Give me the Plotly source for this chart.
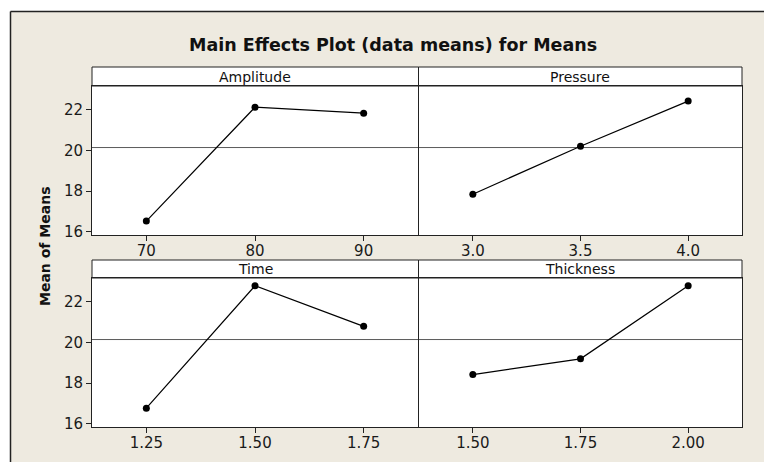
import plotly.graph_objects as go

# ---- data ----
factors = ["Amplitude", "Pressure", "Time", "Thickness"]
amplitude_levels = [70, 80, 90]
amplitude_means = [16.53, 22.11, 21.82]
pressure_levels = [3.0, 3.5, 4.0]
pressure_means = [17.85, 20.20, 22.41]
time_levels = [1.25, 1.50, 1.75]
time_means = [16.77, 22.77, 20.78]
thickness_levels = [1.50, 1.75, 2.00]
thickness_means = [18.42, 19.19, 22.77]

amplitude_ticks = ["70", "80", "90"]
pressure_ticks = ["3.0", "3.5", "4.0"]
time_ticks = ["1.25", "1.50", "1.75"]
thickness_ticks = ["1.50", "1.75", "2.00"]
y_ticks = [16, 18, 20, 22]

levels = [amplitude_levels, pressure_levels, time_levels, thickness_levels]
means = [amplitude_means, pressure_means, time_means, thickness_means]
ticks = [amplitude_ticks, pressure_ticks, time_ticks, thickness_ticks]

all_means = amplitude_means + pressure_means + time_means + thickness_means
grand_mean = sum(all_means) / len(all_means)

W, H = 764, 462
BEIGE = "#EEEAE0"
DARK = "#222222"
FONT = "DejaVu Sans, Verdana, sans-serif"


def px(x):
    return x / W


def py(y):
    return 1 - y / H


x_domains = [[px(92), px(418)], [px(419), px(742)]]
strip_x = [[px(92), px(418.5)], [px(418.5), px(742)]]
y_domains = [[py(235), py(86)], [py(427), py(278)]]
strip_px = [(67, 86), (260, 278)]

fig = go.Figure()
shapes = []
annotations = []

for i in range(4):
    row, col = divmod(i, 2)
    n = i + 1
    xa = "x" if n == 1 else f"x{n}"
    ya = "y" if n == 1 else f"y{n}"
    fig.add_trace(go.Scatter(
        x=levels[i], y=means[i], mode="lines+markers",
        line=dict(color="black", width=1.2),
        marker=dict(color="black", size=7),
        xaxis=xa, yaxis=ya, showlegend=False, hoverinfo="x+y",
    ))
    lv = levels[i]
    step = lv[1] - lv[0]
    xkey = "xaxis" if n == 1 else f"xaxis{n}"
    ykey = "yaxis" if n == 1 else f"yaxis{n}"
    fig.layout[xkey] = dict(
        domain=x_domains[col], anchor=ya, automargin=False,
        range=[lv[0] - step / 2, lv[-1] + step / 2],
        tickmode="array", tickvals=lv, ticktext=ticks[i],
        ticks="outside", ticklen=5, tickcolor=DARK, tickwidth=1,
        ticklabelstandoff=-3,
        showline=True, linecolor=DARK, linewidth=1, mirror=True,
        showgrid=False, zeroline=False,
        tickfont=dict(family=FONT, size=15, color="#1a1a1a"),
        fixedrange=True,
    )
    fig.layout[ykey] = dict(
        domain=y_domains[row], anchor=xa, automargin=False,
        range=[15.85, 23.15],
        tickmode="array", tickvals=y_ticks,
        ticks="outside" if col == 0 else "", ticklen=5, tickcolor=DARK,
        showticklabels=(col == 0),
        showline=True, linecolor=DARK, linewidth=1, mirror=True,
        showgrid=False, zeroline=False,
        tickfont=dict(family=FONT, size=15, color="#1a1a1a"),
        fixedrange=True,
    )
    # grand mean reference line
    shapes.append(dict(
        type="line", xref=f"{xa} domain", yref=ya,
        x0=0, x1=1, y0=grand_mean, y1=grand_mean,
        line=dict(color="#5a5a5a", width=1), layer="below",
    ))
    # strip
    s0, s1 = strip_px[row]
    shapes.append(dict(
        type="rect", xref="paper", yref="paper", layer="below",
        x0=strip_x[col][0], x1=strip_x[col][1], y0=py(s1), y1=py(s0),
        fillcolor="white", line=dict(color=DARK, width=1),
    ))
    annotations.append(dict(
        text=factors[i], xref="paper", yref="paper",
        x=(strip_x[col][0] + strip_x[col][1]) / 2,
        y=(py(s0) + py(s1)) / 2, xanchor="center", yanchor="middle",
        showarrow=False, font=dict(family=FONT, size=14, color="#111"),
    ))

# white margin outside frame
shapes.append(dict(type="rect", xref="paper", yref="paper", x0=0, x1=1,
                   y0=py(11), y1=1, fillcolor="white", line=dict(width=0), layer="below"))
shapes.append(dict(type="rect", xref="paper", yref="paper", x0=0, x1=px(10),
                   y0=0, y1=1, fillcolor="white", line=dict(width=0), layer="below"))
# frame border
shapes.append(dict(type="line", xref="paper", yref="paper", x0=px(10.5), x1=1,
                   y0=py(11.5), y1=py(11.5), line=dict(color=DARK, width=1.5)))
shapes.append(dict(type="line", xref="paper", yref="paper", x0=px(10.5), x1=px(10.5),
                   y0=0, y1=py(11.5), line=dict(color=DARK, width=1.5)))

# title
annotations.append(dict(
    text="<b>Main Effects Plot (data means) for Means</b>", xref="paper", yref="paper",
    x=px(393), y=py(45), xanchor="center", yanchor="middle", showarrow=False,
    font=dict(family=FONT, size=17.5, color="#111"),
))
# y-axis title
annotations.append(dict(
    text="<b>Mean of Means</b>", xref="paper", yref="paper",
    x=px(45), y=py(247), xanchor="center", yanchor="middle", showarrow=False,
    textangle=-90, font=dict(family=FONT, size=14, color="#111"),
))

fig.update_layout(
    template="none",
    width=W, height=H, autosize=False,
    margin=dict(l=0, r=0, t=0, b=0, pad=0),
    paper_bgcolor=BEIGE, plot_bgcolor="white",
    shapes=shapes, annotations=annotations, showlegend=False,
)

fig.write_html(
    "out.html",
    config={"displayModeBar": False, "responsive": False},
    post_script="document.body.style.margin='0';document.body.style.padding='0';"
                "document.body.style.overflow='hidden';",
)
